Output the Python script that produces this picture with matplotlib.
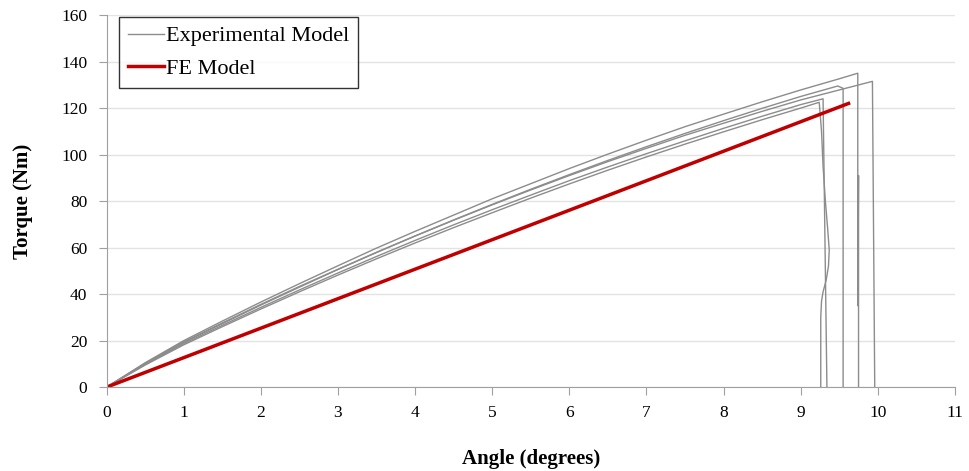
import matplotlib
matplotlib.use('Agg')
import matplotlib.pyplot as plt

plt.rcParams['font.family'] = ['Liberation Serif', 'DejaVu Serif']

# experimental curves (angle in degrees, torque in Nm)
ang = [0, 0.5, 1, 1.5, 2, 2.5, 3, 3.5, 4, 4.5, 5, 5.5, 6, 6.5, 7, 7.5, 8, 8.5, 9]

exp_a_x = ang + [9.5, 9.74, 9.74, 9.75, 9.75]
exp_a_y = [0, 10.5, 20, 28.4, 36.6, 44.5, 52.2, 59.8, 67, 74, 81, 87.5, 94,
           100.2, 106.2, 112, 117.4, 122.7, 127.8, 132.6, 135, 35, 91, 0]

exp_b_x = ang + [9.5, 9.93, 9.96]
exp_b_y = [0, 10.2, 19.5, 27.6, 35.6, 43.3, 50.7, 58, 65, 71.8, 78.4, 84.8, 91,
           97, 102.7, 108.3, 113.5, 118.6, 123.5, 127.8, 131.5, 0]

exp_c_x = ang + [9.48, 9.55, 9.55]
exp_c_y = [0, 10, 19.2, 27.3, 35.3, 43, 50.6, 57.9, 65, 71.9, 78.6, 85.1, 91.4,
           97.5, 103.4, 109.1, 114.6, 119.9, 125, 129.5, 128.5, 0]

exp_d_x = ang + [9.29, 9.34]
exp_d_y = [0, 9.8, 18.7, 26.6, 34.3, 41.8, 49.1, 56.2, 63.1, 69.8, 76.3, 82.6,
           88.8, 94.7, 100.4, 105.9, 111.3, 116.5, 121.5, 124, 0]

exp_e_x = ang + [9.24, 9.27, 9.29, 9.32, 9.35, 9.37, 9.36, 9.33, 9.29, 9.27, 9.26, 9.26]
exp_e_y = [0, 9.5, 18.2, 26, 33.6, 41, 48.2, 55.2, 62, 68.6, 75, 81.3, 87.4,
           93.3, 99, 104.5, 109.8, 115, 120, 122.5, 110, 95, 80, 68, 59, 52,
           46, 41, 37, 30, 0]

fe_x = [0, 9.62]
fe_y = [0, 122]

experiments = [(exp_a_x, exp_a_y), (exp_b_x, exp_b_y), (exp_c_x, exp_c_y),
               (exp_d_x, exp_d_y), (exp_e_x, exp_e_y)]

fig = plt.figure(figsize=(9.69, 4.71), dpi=100)
ax = fig.add_axes([0.110, 0.178, 0.8755, 0.79])

for i, (xs, ys) in enumerate(experiments):
    ax.plot(xs, ys, color='#8c8c8c', linewidth=1.0,
            label='Experimental Model' if i == 0 else None)
ax.plot(fe_x, fe_y, color='#c00000', linewidth=2.5, label='FE Model')

ax.set_xlim(0, 11)
ax.set_ylim(0, 160)
ax.set_xticks(range(0, 12))
ax.set_yticks(range(0, 161, 20))
ax.yaxis.grid(True, color='#e3e3e3', linewidth=1)
ax.set_axisbelow(True)

for s in ['top', 'right']:
    ax.spines[s].set_visible(False)
for s in ['left', 'bottom']:
    ax.spines[s].set_color('#a0a0a0')
ax.tick_params(axis='both', direction='out', length=6, color='#a0a0a0',
               labelsize=12.5)
ax.tick_params(axis='y', pad=8)
ax.tick_params(axis='x', pad=7)

ax.set_xlabel('Angle (degrees)', fontsize=15, fontweight='bold', labelpad=20)
ax.set_ylabel('Torque (Nm)', fontsize=15, fontweight='bold', labelpad=20)

leg = ax.legend(loc='upper left', bbox_to_anchor=(0.015, 0.995), fontsize=16,
                frameon=True, fancybox=False, handlelength=1.6,
                handletextpad=0.1, borderpad=0.4, labelspacing=0.55,
                borderaxespad=0)
leg.get_frame().set_edgecolor('black')
leg.get_frame().set_linewidth(1.0)

fig.savefig('out.png', dpi=100)
